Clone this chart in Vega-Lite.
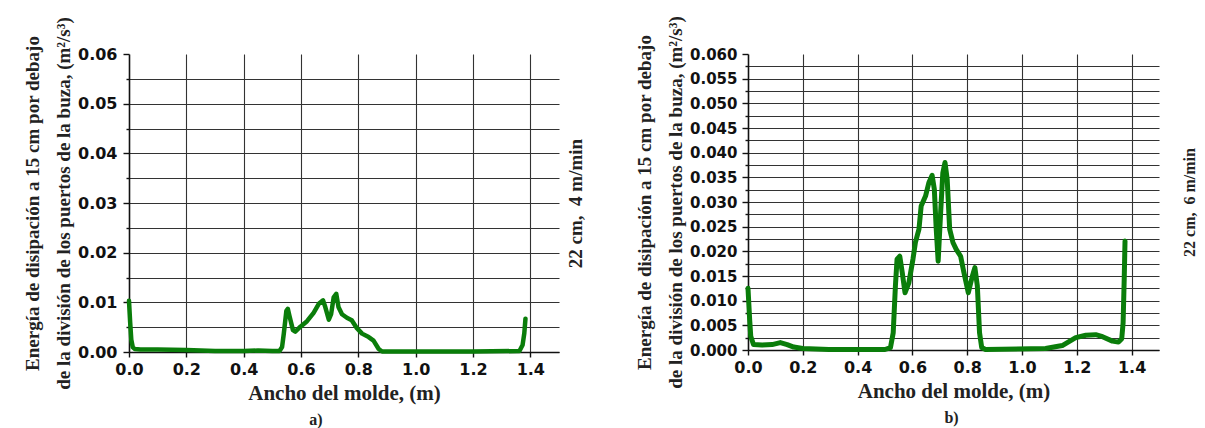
{
  "$schema": "https://vega.github.io/schema/vega-lite/v6.json",
  "padding": {"left": 23, "top": 15, "right": 4, "bottom": 2},
  "background": "white",
  "config": {
    "view": {"stroke": null},
    "axis": {
      "domainColor": "#111", "domainWidth": 1.6, "tickColor": "#111", "tickWidth": 1.4,
      "gridColor": "#333", "gridWidth": 1.1,
      "labelFont": "DejaVu Sans", "labelFontWeight": "bold", "labelColor": "#111",
      "labelFlush": false, "labelOverlap": false,
      "titleFont": "Liberation Serif", "titleFontWeight": "bold", "titleColor": "#222"
    }
  },
  "datasets": {
    "a": [
      {"x": 0.0, "y": 0.0103}, {"x": 0.004, "y": 0.006}, {"x": 0.008, "y": 0.0025}, {"x": 0.013, "y": 0.001},
      {"x": 0.02, "y": 0.0006}, {"x": 0.04, "y": 0.0005}, {"x": 0.1, "y": 0.0005}, {"x": 0.2, "y": 0.0004},
      {"x": 0.3, "y": 0.0002}, {"x": 0.4, "y": 0.0002}, {"x": 0.45, "y": 0.0003}, {"x": 0.5, "y": 0.0002},
      {"x": 0.525, "y": 0.0002}, {"x": 0.534, "y": 0.001}, {"x": 0.54, "y": 0.0037}, {"x": 0.549, "y": 0.0083},
      {"x": 0.554, "y": 0.0087}, {"x": 0.56, "y": 0.0072}, {"x": 0.572, "y": 0.0044}, {"x": 0.58, "y": 0.0041},
      {"x": 0.598, "y": 0.0051}, {"x": 0.621, "y": 0.0062}, {"x": 0.644, "y": 0.0079}, {"x": 0.662, "y": 0.0097},
      {"x": 0.677, "y": 0.0104}, {"x": 0.685, "y": 0.009}, {"x": 0.697, "y": 0.0065}, {"x": 0.705, "y": 0.0076},
      {"x": 0.714, "y": 0.011}, {"x": 0.723, "y": 0.0117}, {"x": 0.731, "y": 0.009}, {"x": 0.743, "y": 0.0076},
      {"x": 0.76, "y": 0.0069}, {"x": 0.777, "y": 0.0064}, {"x": 0.795, "y": 0.0048}, {"x": 0.813, "y": 0.0037},
      {"x": 0.836, "y": 0.003}, {"x": 0.853, "y": 0.0023}, {"x": 0.871, "y": 0.0006}, {"x": 0.883, "y": 0.0001},
      {"x": 1.0, "y": 0.0001}, {"x": 1.2, "y": 0.0001}, {"x": 1.362, "y": 0.0002}, {"x": 1.373, "y": 0.0014},
      {"x": 1.379, "y": 0.0038}, {"x": 1.383, "y": 0.0067}
    ],
    "b": [
      {"x": 0.0, "y": 0.0125}, {"x": 0.006, "y": 0.0062}, {"x": 0.01, "y": 0.0028}, {"x": 0.02, "y": 0.0011},
      {"x": 0.051, "y": 0.001}, {"x": 0.088, "y": 0.0011}, {"x": 0.118, "y": 0.0015}, {"x": 0.143, "y": 0.0011},
      {"x": 0.167, "y": 0.0006}, {"x": 0.2, "y": 0.0003}, {"x": 0.295, "y": 0.0001}, {"x": 0.44, "y": 0.0001},
      {"x": 0.5, "y": 0.0001}, {"x": 0.52, "y": 0.0005}, {"x": 0.53, "y": 0.0035}, {"x": 0.538, "y": 0.013},
      {"x": 0.544, "y": 0.0184}, {"x": 0.554, "y": 0.019}, {"x": 0.563, "y": 0.0157}, {"x": 0.573, "y": 0.0116},
      {"x": 0.587, "y": 0.0136}, {"x": 0.602, "y": 0.0184}, {"x": 0.611, "y": 0.0218}, {"x": 0.624, "y": 0.0245},
      {"x": 0.632, "y": 0.0292}, {"x": 0.648, "y": 0.0312}, {"x": 0.66, "y": 0.0339}, {"x": 0.672, "y": 0.0354},
      {"x": 0.68, "y": 0.0326}, {"x": 0.687, "y": 0.0245}, {"x": 0.694, "y": 0.018}, {"x": 0.703, "y": 0.0278},
      {"x": 0.711, "y": 0.0359}, {"x": 0.719, "y": 0.038}, {"x": 0.727, "y": 0.0346}, {"x": 0.736, "y": 0.0245},
      {"x": 0.748, "y": 0.0218}, {"x": 0.76, "y": 0.0204}, {"x": 0.776, "y": 0.019}, {"x": 0.788, "y": 0.0157},
      {"x": 0.804, "y": 0.0116}, {"x": 0.819, "y": 0.015}, {"x": 0.828, "y": 0.0167}, {"x": 0.837, "y": 0.013},
      {"x": 0.845, "y": 0.0035}, {"x": 0.853, "y": 0.0005}, {"x": 0.867, "y": 0.0001}, {"x": 1.086, "y": 0.0003},
      {"x": 1.147, "y": 0.0009}, {"x": 1.196, "y": 0.0025}, {"x": 1.233, "y": 0.003}, {"x": 1.269, "y": 0.0031},
      {"x": 1.294, "y": 0.0027}, {"x": 1.33, "y": 0.0018}, {"x": 1.352, "y": 0.0016}, {"x": 1.364, "y": 0.0023},
      {"x": 1.369, "y": 0.0055}, {"x": 1.373, "y": 0.0143}, {"x": 1.376, "y": 0.0221}
    ]
  },
  "bounds": "flush",
  "spacing": 189,
  "hconcat": [
    {
      "width": 430, "height": 298,
      "title": {"text": "a)", "orient": "bottom", "anchor": "middle", "dx": -28, "offset": 9, "font": "Liberation Serif", "fontSize": 16, "fontWeight": "bold", "color": "#222"},
      "data": {"name": "a"},
      "layer": [
        {
          "mark": {"type": "line", "color": "#0a7d0a", "strokeWidth": 4.5, "strokeJoin": "round", "strokeCap": "round"},
          "encoding": {
            "x": {"field": "x", "type": "quantitative", "scale": {"domain": [0, 1.5], "nice": false},
              "axis": {"values": [0, 0.1, 0.2, 0.3, 0.4, 0.5, 0.6, 0.7, 0.8, 0.9, 1.0, 1.1, 1.2, 1.3, 1.4, 1.5],
                "labelExpr": "(round(datum.value*10) % 2 == 0 && datum.value < 1.45) ? format(datum.value, '.1f') : ''",
                "labelFontSize": 16, "tickSize": 5, "labelPadding": 4,
                "gridOpacity": {"condition": {"test": "datum.value < 0.05 || datum.value > 1.45", "value": 0}, "value": 1},
                "title": "Ancho del molde, (m)", "titleFontSize": 21, "titlePadding": 5}},
            "y": {"field": "y", "type": "quantitative", "scale": {"domain": [0, 0.06], "nice": false},
              "axis": {"orient": "left", "values": [0, 0.005, 0.01, 0.015, 0.02, 0.025, 0.03, 0.035, 0.04, 0.045, 0.05, 0.055, 0.06],
                "labelExpr": "round(datum.value*1000) % 10 == 0 ? format(datum.value, '.2f') : ''",
                "labelFontSize": 16, "labelPadding": 6,
                "tickSize": {"condition": {"test": "round(datum.value*1000) % 10 == 0", "value": 6}, "value": 3},
                "gridOpacity": {"condition": {"test": "datum.value > 0.0595", "value": 0}, "value": 1},
                "title": ["Energía de disipación a 15 cm por debajo", "de la división de los puertos de la buza, (m²/s³)"],
                "titleFontSize": 19, "titleLineHeight": 31, "titlePadding": 4}}
          }
        },
        {
          "mark": {"type": "line", "opacity": 0},
          "encoding": {
            "x": {"field": "x", "type": "quantitative"},
            "y": {"field": "y", "type": "quantitative",
              "axis": {"orient": "right", "labels": false, "ticks": false, "domain": false, "grid": false,
                "title": "22 cm,\u00a0 4 m/min", "titleAngle": 270, "titleBaseline": "top", "titleFontSize": 19, "titlePadding": 7}}
          }
        }
      ]
    },
    {
      "width": 411, "height": 296,
      "title": {"text": "b)", "orient": "bottom", "anchor": "middle", "dx": -2, "offset": 9, "font": "Liberation Serif", "fontSize": 16, "fontWeight": "bold", "color": "#222"},
      "data": {"name": "b"},
      "layer": [
        {
          "mark": {"type": "line", "color": "#0a7d0a", "strokeWidth": 5, "strokeJoin": "round", "strokeCap": "round"},
          "encoding": {
            "x": {"field": "x", "type": "quantitative", "scale": {"domain": [0, 1.5], "nice": false},
              "axis": {"values": [0, 0.1, 0.2, 0.3, 0.4, 0.5, 0.6, 0.7, 0.8, 0.9, 1.0, 1.1, 1.2, 1.3, 1.4, 1.5],
                "labelExpr": "(round(datum.value*10) % 2 == 0 && datum.value < 1.45) ? format(datum.value, '.1f') : ''",
                "labelFontSize": 16, "tickSize": 5, "labelPadding": 4,
                "gridOpacity": {"condition": {"test": "datum.value < 0.05 || datum.value > 1.45", "value": 0}, "value": 1},
                "title": "Ancho del molde, (m)", "titleFontSize": 21, "titlePadding": 5}},
            "y": {"field": "y", "type": "quantitative", "scale": {"domain": [0, 0.06], "nice": false},
              "axis": {"orient": "left", "values": [0, 0.0025, 0.005, 0.0075, 0.01, 0.0125, 0.015, 0.0175, 0.02, 0.0225, 0.025, 0.0275, 0.03, 0.0325, 0.035, 0.0375, 0.04, 0.0425, 0.045, 0.0475, 0.05, 0.0525, 0.055, 0.0575, 0.06],
                "labelExpr": "round(datum.value*10000) % 50 == 0 ? format(datum.value, '.3f') : ''",
                "labelFontSize": 15, "labelPadding": 5,
                "tickSize": {"condition": {"test": "round(datum.value*10000) % 50 == 0", "value": 6}, "value": 3},
                "gridOpacity": {"condition": {"test": "datum.value > 0.0595", "value": 0}, "value": 1},
                "title": ["Energía de disipación a 15 cm por debajo", "de la división de los puertos de la buza, (m²/s³)"],
                "titleFontSize": 19, "titleLineHeight": 31, "titlePadding": 4}}
          }
        },
        {
          "mark": {"type": "line", "opacity": 0},
          "encoding": {
            "x": {"field": "x", "type": "quantitative"},
            "y": {"field": "y", "type": "quantitative",
              "axis": {"orient": "right", "labels": false, "ticks": false, "domain": false, "grid": false,
                "title": "22 cm,\u00a0 6 m/min", "titleAngle": 270, "titleBaseline": "top", "titleFontSize": 16, "titlePadding": 22}}
          }
        }
      ]
    }
  ]
}
